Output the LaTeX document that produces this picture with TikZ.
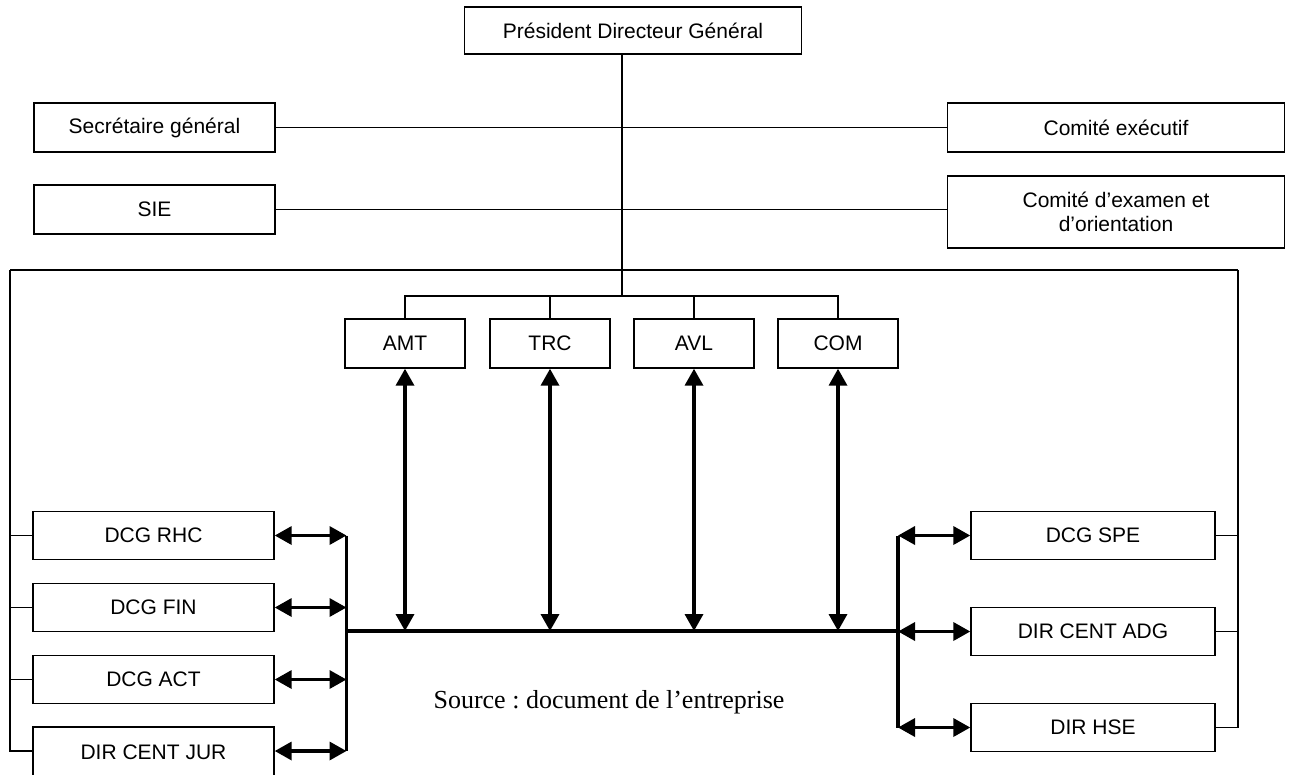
\documentclass[tikz,border=0pt]{standalone}
\usepackage{fontspec}
\setmainfont{Liberation Sans}
\newfontfamily\sourcefont{Liberation Serif}
\usetikzlibrary{arrows.meta}
\begin{document}
\frenchspacing
\begin{tikzpicture}[x=1pt,y=-1pt,
  box/.style={draw, line width=1.4pt, inner sep=0pt, align=center,
    font=\fontsize{21}{24.5}\selectfont},
  wide/.style={box, minimum width=337pt, minimum height=48pt},
  side/.style={box, minimum width=241pt, minimum height=48pt},
  unit/.style={box, minimum width=120pt, minimum height=49pt},
  link/.style={line width=1.5pt},
  bar/.style={line width=3.5pt},
  both/.style={line width=3.5pt,
    {Triangle[length=17pt,width=18pt]}-{Triangle[length=17pt,width=18pt]}}]
\useasboundingbox (0,0) rectangle (1289,774);

% top management
\node[wide, minimum height=47pt] (pdg) at (633,30.5) {Président Directeur Général};
\node[side, minimum height=49pt] (sg)  at (154.5,127.5) {Secrétaire général};
\node[wide, minimum height=49pt] (ce)  at (1116,127.5) {Comité exécutif};
\node[side, minimum height=49pt] (sie) at (154.5,209.5) {SIE};
\node[wide, minimum height=72pt] (cea) at (1116,212) {Comité d’examen et\\d’orientation};

% operational units
\node[unit] (amt) at (405,343.5) {AMT};
\node[unit] (trc) at (550,343.5) {TRC};
\node[unit] (avl) at (694,343.5) {AVL};
\node[unit] (com) at (838,343.5) {COM};

% left directorates
\node[side] (rhc) at (153.5,535.5) {DCG RHC};
\node[side] (fin) at (153.5,607.5) {DCG FIN};
\node[side] (act) at (153.5,679.5) {DCG ACT};
\node[side, minimum height=54pt] (jur) at (153.5,754) {\raisebox{3pt}{DIR CENT JUR}};

% right directorates
\node[side, minimum width=244pt] (spe) at (1093,535.5) {DCG SPE};
\node[side, minimum width=244pt] (adg) at (1093,631.5) {DIR CENT ADG};
\node[side, minimum width=244pt] (hse) at (1093,727.5) {DIR HSE};

\node[font=\sourcefont\fontsize{26}{30}\selectfont, anchor=base, inner sep=0pt]
  (src) at (609,708) {Source : document de l’entreprise};

% junction points
\coordinate (hub) at (622,296);
\coordinate (tl) at (10,270);
\coordinate (tr) at (1238,270);
\coordinate (lb) at (346.5,631);
\coordinate (rb) at (898,631);
\coordinate (jj) at (10,751);

% thin hierarchy lines
\draw[link] (pdg.south -| hub) -- (hub);
\draw[link] (sg.east) -- (ce.west);
\draw[link] (sie.east) -- (cea.west |- sie.east);
\draw[link] (tl) -- (tr);
\draw[link] (amt.north) |- (hub) -| (com.north);
\draw[link] (trc.north) -- (trc.north |- hub);
\draw[link] (avl.north) -- (avl.north |- hub);

\draw[link] (tl) -- (jj) -- (jj -| jur.west);
\foreach \n in {rhc,fin,act}
  \draw[link] (\n.west -| tl) -- (\n.west);
\draw[link] (tr) |- (hse.east);
\foreach \n in {spe,adg}
  \draw[link] (\n.east -| tr) -- (\n.east);

% thick bus and bars
\draw[bar] (lb) -- (rb);
\draw[bar] (rhc.east -| lb) -- (jj -| lb);
\draw[bar] (spe.west -| rb) -- (hse.west -| rb);

% two-way links
\foreach \n in {amt,trc,avl,com}
  \draw[both] (\n.south) -- (\n.south |- lb);
\foreach \n in {rhc,fin,act}
  \draw[both] (\n.east) -- (\n.east -| lb);
\draw[both] (jj -| jur.east) -- (jj -| lb);
\foreach \n in {spe,adg,hse}
  \draw[both] (\n.west -| rb) -- (\n.west);
\end{tikzpicture}
\end{document}
